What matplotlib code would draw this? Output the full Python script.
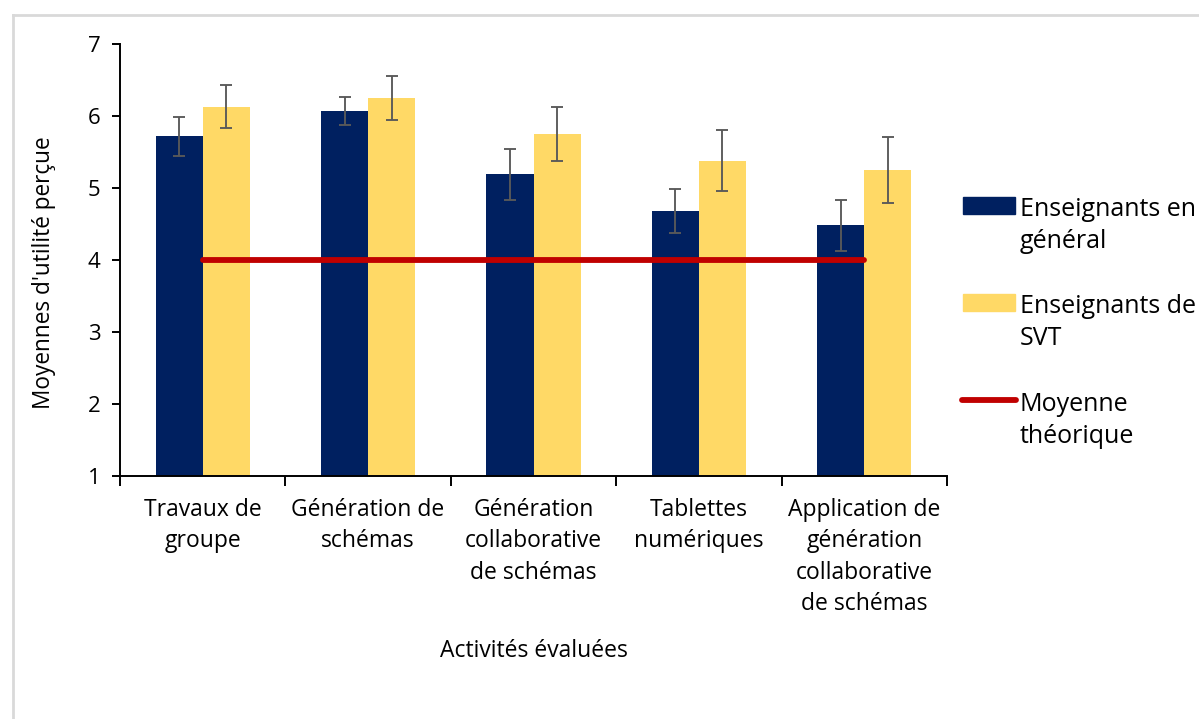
import numpy as np
import matplotlib
matplotlib.use("Agg")
from matplotlib import pyplot as plt
from matplotlib.lines import Line2D
from matplotlib.patches import Rectangle

plt.rcParams['font.family'] = ['Open Sans', 'DejaVu Sans']

categories = ['Travaux de\ngroupe', 'Génération de\nschémas', 'Génération\ncollaborative\nde schémas',
              'Tablettes\nnumériques', 'Application de\ngénération\ncollaborative\nde schémas']
general = [5.72, 6.07, 5.19, 4.68, 4.48]
general_err = [0.27, 0.20, 0.35, 0.30, 0.36]
svt = [6.13, 6.25, 5.75, 5.38, 5.25]
svt_err = [0.30, 0.31, 0.37, 0.42, 0.46]
theoretical = [4, 4, 4, 4, 4]
legend_labels = ['Enseignants en\ngénéral', 'Enseignants de\nSVT', 'Moyenne\nthéorique']

navy = '#002060'
yellow = '#FFD966'
red = '#C00000'
grey = '#595959'

W, H = 1199, 719
fig = plt.figure(figsize=(W / 100, H / 100), dpi=100)
ax = fig.add_axes([120 / W, 1 - 476 / H, (947 - 120) / W, (476 - 44) / H])

x = np.arange(len(categories))
w = 0.285
ax.bar(x - w / 2, general, w, color=navy)
ax.bar(x + w / 2, svt, w, color=yellow)
ax.errorbar(x - w / 2, general, yerr=general_err, fmt='none', ecolor=grey,
            elinewidth=1.35, capsize=4.3, capthick=1.35)
ax.errorbar(x + w / 2, svt, yerr=svt_err, fmt='none', ecolor=grey,
            elinewidth=1.35, capsize=4.3, capthick=1.35)
ax.plot(x, theoretical, color=red, lw=4.2, solid_capstyle='round')

ax.set_xlim(-0.5, len(categories) - 0.5)
ax.set_ylim(1, 7)
ax.set_yticks(range(1, 8))
ax.set_xticks(x)
ax.set_xticklabels(categories, fontsize=16.5, linespacing=1.4)
ax.set_xticks(np.arange(-0.5, len(categories)), minor=True)
ax.tick_params(axis='x', which='major', length=0, pad=16)
ax.tick_params(axis='x', which='minor', length=7, width=1.4, direction='out')
ax.tick_params(axis='y', length=6, width=1.4, direction='out', labelsize=16, pad=8)
for s in ['top', 'right']:
    ax.spines[s].set_visible(False)
for s in ['left', 'bottom']:
    ax.spines[s].set_linewidth(1.4)

ax.set_ylabel("Moyennes d'utilité perçue", fontsize=16.3)
ax.yaxis.set_label_coords(-0.077, 0.47)
ax.set_xlabel('Activités évaluées', fontsize=16.5)
ax.xaxis.set_label_coords(0.5, -0.378)

# legend drawn Excel-style: key aligned with the first line of each label
legend_y = [205, 302, 400]
for i, (lab, yc) in enumerate(zip(legend_labels, legend_y)):
    yf = 1 - yc / H
    if i < 2:
        fig.add_artist(Rectangle((963 / W, yf - 8.5 / H), 52 / W, 17 / H,
                                 color=[navy, yellow][i], transform=fig.transFigure))
    else:
        fig.add_artist(Line2D([962 / W, 1016 / W], [yf, yf], color=red, lw=4.2,
                              solid_capstyle='round'))
    # baseline of the last (second) line
    fig.text(1020 / W, 1 - (yc + 8 + 35) / H, lab, fontsize=18, va='baseline', ha='left',
             linespacing=1.35)

# light grey frame around the chart area
fig.add_artist(Line2D([13 / W, 13 / W], [0, 1 - 15 / H], color='#d9d9d9', lw=2))
fig.add_artist(Line2D([13 / W, 1], [1 - 15 / H, 1 - 15 / H], color='#d9d9d9', lw=2))

fig.savefig('out.png', dpi=100)
